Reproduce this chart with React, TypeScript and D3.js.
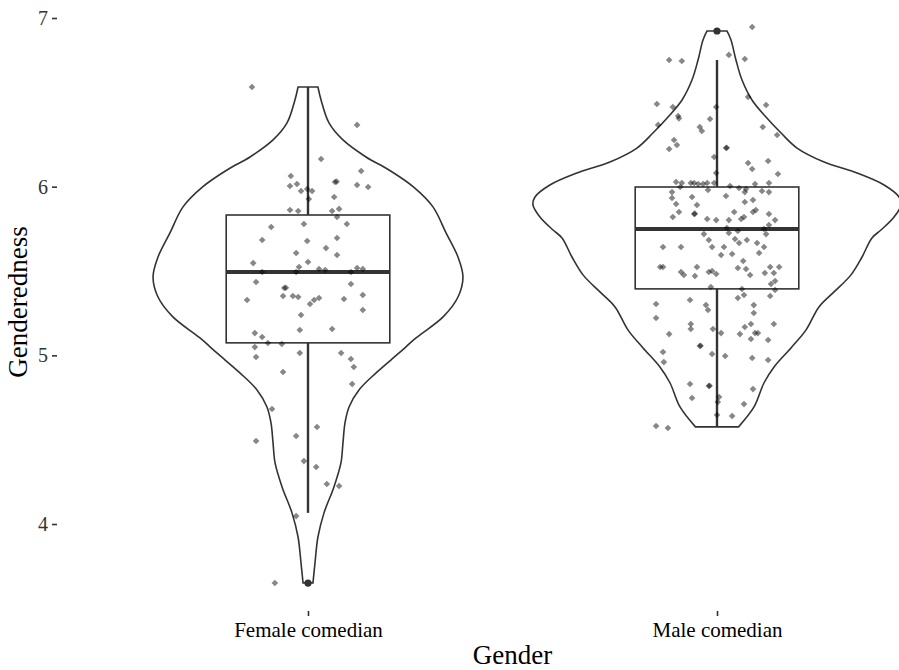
import React, { useEffect, useRef } from 'react';
import * as d3 from 'd3';

const categories = ['Female comedian', 'Male comedian'];
const yTicks = [4, 5, 6, 7];

// box stats: [lower whisker, q1, median, q3, upper whisker]
const femaleBox = [4.066, 5.074, 5.494, 5.832, 6.591];
const maleBox = [4.576, 5.394, 5.749, 5.998, 6.751];
const femaleOutliers = [3.65];
const maleOutliers = [6.923];

// violin outline: [genderedness, scaled density]
const femaleViolin = [
  [3.651, 0.027], [3.769, 0.038], [3.923, 0.054], [4.066, 0.087], [4.22, 0.141],
  [4.362, 0.179], [4.481, 0.19], [4.599, 0.201], [4.694, 0.223], [4.795, 0.277],
  [4.896, 0.37], [5.014, 0.495], [5.103, 0.587], [5.228, 0.734], [5.346, 0.815],
  [5.465, 0.842], [5.583, 0.815], [5.726, 0.75], [5.88, 0.679], [6.0, 0.571],
  [6.099, 0.44], [6.176, 0.315], [6.277, 0.19], [6.378, 0.114], [6.514, 0.071],
  [6.591, 0.054],
];
const maleViolin = [
  [4.576, 0.117], [4.694, 0.201], [4.836, 0.255], [4.931, 0.31], [5.044, 0.402],
  [5.151, 0.484], [5.287, 0.554], [5.376, 0.636], [5.477, 0.728], [5.583, 0.788],
  [5.696, 0.842], [5.743, 0.891], [5.82, 0.962], [5.892, 1.0], [5.939, 0.989],
  [6.01, 0.908], [6.081, 0.761], [6.146, 0.582], [6.229, 0.435], [6.318, 0.348],
  [6.413, 0.266], [6.514, 0.19], [6.632, 0.136], [6.751, 0.103], [6.87, 0.076],
  [6.923, 0.054],
];

// jittered points: [x jitter in category units, genderedness]
const femalePoints = [
  [-0.137, 6.591], [0.12, 6.366], [0.032, 6.164], [0.13, 6.093], [-0.042, 6.063],
  [0.066, 6.028], [0.07, 6.03], [-0.044, 6.004], [-0.027, 6.016], [0.12, 6.01],
  [0.147, 5.998], [-0.017, 5.974], [-0.002, 5.986], [0.01, 5.974], [0.002, 5.927],
  [0.064, 5.939], [-0.044, 5.862], [-0.024, 5.856], [0.059, 5.856], [0.076, 5.868],
  [0.071, 5.82], [0.095, 5.779], [-0.09, 5.761], [-0.01, 5.779], [-0.112, 5.684],
  [-0.002, 5.678], [0.071, 5.696], [0.044, 5.636], [-0.029, 5.607], [0.071, 5.595],
  [-0.134, 5.547], [0.0, 5.553], [-0.022, 5.524], [0.027, 5.512], [0.042, 5.506],
  [0.12, 5.518], [0.134, 5.512], [-0.112, 5.494], [-0.029, 5.494], [0.105, 5.494],
  [-0.127, 5.435], [0.105, 5.423], [-0.058, 5.399], [-0.054, 5.401], [-0.061, 5.352],
  [-0.037, 5.352], [-0.024, 5.346], [-0.149, 5.328], [0.005, 5.304], [0.015, 5.328],
  [0.027, 5.34], [0.088, 5.334], [0.134, 5.358], [0.134, 5.269], [-0.017, 5.239],
  [-0.02, 5.15], [0.059, 5.156], [-0.13, 5.132], [-0.112, 5.109], [-0.098, 5.073],
  [-0.064, 5.067], [-0.13, 5.049], [-0.127, 4.99], [-0.02, 5.014], [0.081, 5.014],
  [0.105, 4.978], [0.112, 4.931], [-0.061, 4.901], [0.108, 4.83], [-0.088, 4.682],
  [0.022, 4.575], [-0.127, 4.492], [-0.029, 4.522], [-0.01, 4.373], [0.02, 4.338],
  [0.046, 4.237], [0.076, 4.225], [-0.029, 4.047], [-0.081, 3.65],
];
const malePoints = [
  [0.086, 6.947], [-0.117, 6.751], [-0.086, 6.745], [0.029, 6.781], [0.068, 6.757],
  [0.076, 6.532], [0.12, 6.484], [-0.147, 6.49], [-0.108, 6.472], [-0.095, 6.419],
  [-0.093, 6.405], [-0.002, 6.472], [-0.017, 6.401], [-0.042, 6.354], [-0.037, 6.33],
  [0.112, 6.354], [0.147, 6.306], [-0.144, 6.366], [-0.105, 6.277], [-0.098, 6.247],
  [-0.117, 6.223], [0.022, 6.229], [0.024, 6.231], [-0.007, 6.176], [0.076, 6.14],
  [0.086, 6.105], [0.125, 6.152], [0.149, 6.075], [-0.002, 6.081], [-0.1, 6.028],
  [-0.09, 5.998], [-0.086, 6.022], [-0.064, 6.022], [-0.056, 6.022], [-0.046, 6.016],
  [-0.034, 6.016], [-0.024, 6.022], [-0.022, 5.98], [-0.007, 6.022], [0.032, 6.004],
  [0.054, 5.992], [0.068, 5.968], [0.071, 5.986], [0.093, 6.016], [0.127, 6.022],
  [0.11, 5.974], [0.127, 5.968], [-0.11, 5.968], [-0.11, 5.933], [-0.061, 5.939],
  [0.022, 5.945], [0.068, 5.909], [0.088, 5.921], [-0.1, 5.897], [-0.049, 5.891],
  [-0.093, 5.85], [-0.056, 5.838], [-0.054, 5.84], [-0.108, 5.82], [0.042, 5.85],
  [0.088, 5.85], [0.095, 5.862], [0.127, 5.838], [-0.024, 5.808], [-0.002, 5.802],
  [0.029, 5.802], [0.059, 5.808], [0.066, 5.82], [0.142, 5.802], [0.127, 5.773],
  [0.024, 5.755], [0.051, 5.737], [0.115, 5.749], [-0.032, 5.719], [-0.02, 5.684],
  [0.044, 5.69], [0.073, 5.684], [0.12, 5.719], [0.029, 5.725], [0.054, 5.666],
  [0.098, 5.666], [-0.132, 5.642], [-0.088, 5.642], [-0.012, 5.642], [0.017, 5.642],
  [0.115, 5.642], [0.01, 5.595], [0.037, 5.601], [0.103, 5.607], [0.064, 5.559],
  [-0.139, 5.524], [-0.132, 5.524], [-0.049, 5.524], [-0.088, 5.494], [-0.081, 5.476],
  [-0.054, 5.47], [-0.02, 5.494], [-0.012, 5.5], [-0.002, 5.482], [0.051, 5.518],
  [0.071, 5.512], [0.081, 5.476], [0.117, 5.488], [0.13, 5.524], [0.152, 5.524],
  [0.139, 5.488], [0.142, 5.441], [0.132, 5.423], [-0.015, 5.405], [0.061, 5.393],
  [0.142, 5.387], [0.051, 5.34], [0.066, 5.358], [0.13, 5.352], [-0.149, 5.304],
  [-0.066, 5.328], [-0.027, 5.298], [-0.022, 5.269], [0.09, 5.298], [0.09, 5.251],
  [-0.149, 5.221], [-0.064, 5.186], [-0.064, 5.156], [-0.117, 5.126], [-0.01, 5.156],
  [0.01, 5.132], [0.056, 5.126], [0.068, 5.168], [0.083, 5.186], [0.093, 5.132],
  [0.1, 5.132], [0.083, 5.097], [0.125, 5.091], [0.139, 5.186], [-0.042, 5.055],
  [-0.04, 5.057], [-0.132, 5.02], [-0.13, 4.96], [-0.012, 5.008], [0.02, 4.996],
  [0.086, 4.984], [0.125, 4.972], [-0.066, 4.83], [-0.02, 4.818], [-0.018, 4.82],
  [-0.061, 4.747], [0.005, 4.753], [0.002, 4.723], [0.088, 4.8], [0.066, 4.711],
  [0.0, 4.646], [0.037, 4.64], [-0.12, 4.569], [-0.149, 4.581],
];

const groups = [
  { pos: 1, violin: femaleViolin, box: femaleBox, outliers: femaleOutliers, points: femalePoints },
  { pos: 2, violin: maleViolin, box: maleBox, outliers: maleOutliers, points: malePoints },
];

const draw = (node: HTMLDivElement) => {
  d3.select(node).selectAll('*').remove();

  const width = 899, height = 670;
  const panel = { left: 57, bottom: 611 };
  const ink = '#333333';
  const font = '"Liberation Serif", "Times New Roman", serif';

  const svg = d3.select(node).append('svg')
    .attr('width', width)
    .attr('height', height)
    .style('display', 'block');

  // scales
  const x = d3.scaleLinear().domain([1, 2]).range([308, 717]);
  const y = d3.scaleLinear().domain([4, 7]).range([524, 18]);
  const halfWidth = d3.scaleLinear().domain([0, 1]).range([0, 0.45]);
  const boxHalf = 0.2;

  const plot = svg.append('g');

  groups.forEach((g) => {
    // violin
    const area = d3.area<number[]>()
      .curve(d3.curveCatmullRom)
      .y((d) => y(d[0]))
      .x0((d) => x(g.pos - halfWidth(d[1])))
      .x1((d) => x(g.pos + halfWidth(d[1])));
    plot.append('path')
      .attr('d', area(g.violin))
      .attr('fill', 'white')
      .attr('stroke', ink)
      .attr('stroke-width', 1.6);

    // boxplot
    const [lo, q1, med, q3, hi] = g.box;
    plot.append('line')
      .attr('x1', x(g.pos)).attr('x2', x(g.pos))
      .attr('y1', y(q3)).attr('y2', y(hi))
      .attr('stroke', ink).attr('stroke-width', 2.4);
    plot.append('line')
      .attr('x1', x(g.pos)).attr('x2', x(g.pos))
      .attr('y1', y(q1)).attr('y2', y(lo))
      .attr('stroke', ink).attr('stroke-width', 2.4);
    plot.append('rect')
      .attr('x', x(g.pos - boxHalf))
      .attr('y', y(q3))
      .attr('width', x(g.pos + boxHalf) - x(g.pos - boxHalf))
      .attr('height', y(q1) - y(q3))
      .attr('fill', 'none')
      .attr('stroke', ink)
      .attr('stroke-width', 1.6);
    plot.append('line')
      .attr('x1', x(g.pos - boxHalf)).attr('x2', x(g.pos + boxHalf))
      .attr('y1', y(med)).attr('y2', y(med))
      .attr('stroke', ink).attr('stroke-width', 4);
    plot.selectAll(null)
      .data(g.outliers)
      .enter().append('circle')
      .attr('cx', x(g.pos))
      .attr('cy', (d) => y(d))
      .attr('r', 3.6)
      .attr('fill', ink);
  });

  // jittered points on top
  const diamond = d3.symbol().type(d3.symbolDiamond2).size(28);
  groups.forEach((g) => {
    plot.selectAll(null)
      .data(g.points)
      .enter().append('path')
      .attr('d', diamond)
      .attr('transform', (d) => `translate(${x(g.pos + d[0])},${y(d[1])})`)
      .attr('fill', 'black')
      .attr('fill-opacity', 0.47);
  });

  // y axis
  const yAxis = svg.append('g')
    .attr('transform', `translate(${panel.left},0)`)
    .call(d3.axisLeft(y).tickValues(yTicks).tickSize(5).tickPadding(4).tickFormat(d3.format('d')));
  yAxis.select('.domain').remove();
  yAxis.selectAll('line').attr('stroke', ink).attr('stroke-width', 1.6);
  yAxis.selectAll('text')
    .attr('fill', ink)
    .style('font-family', font)
    .style('font-size', '20px');

  // x axis
  const xAxis = svg.append('g')
    .attr('transform', `translate(0,${panel.bottom})`)
    .call(d3.axisBottom(x).tickValues([1, 2]).tickSize(5).tickPadding(6)
      .tickFormat((d) => categories[+d - 1]));
  xAxis.select('.domain').remove();
  xAxis.selectAll('line').attr('stroke', ink).attr('stroke-width', 1.6);
  xAxis.selectAll('text')
    .attr('fill', 'black')
    .style('font-family', font)
    .style('font-size', '21px');

  // axis titles
  svg.append('text')
    .attr('x', (x(1) + x(2)) / 2)
    .attr('y', 664)
    .attr('text-anchor', 'middle')
    .style('font-family', font)
    .style('font-size', '27px')
    .text('Gender');

  svg.append('text')
    .attr('transform', 'translate(27,302) rotate(-90)')
    .attr('text-anchor', 'middle')
    .style('font-family', font)
    .style('font-size', '27px')
    .text('Genderedness');
};

const App = () => {
  const ref = useRef<HTMLDivElement>(null);
  useEffect(() => {
    if (ref.current) draw(ref.current);
  }, []);
  return <div ref={ref} style={{ position: 'absolute', left: 0, top: 0 }} />;
};

export default App;
